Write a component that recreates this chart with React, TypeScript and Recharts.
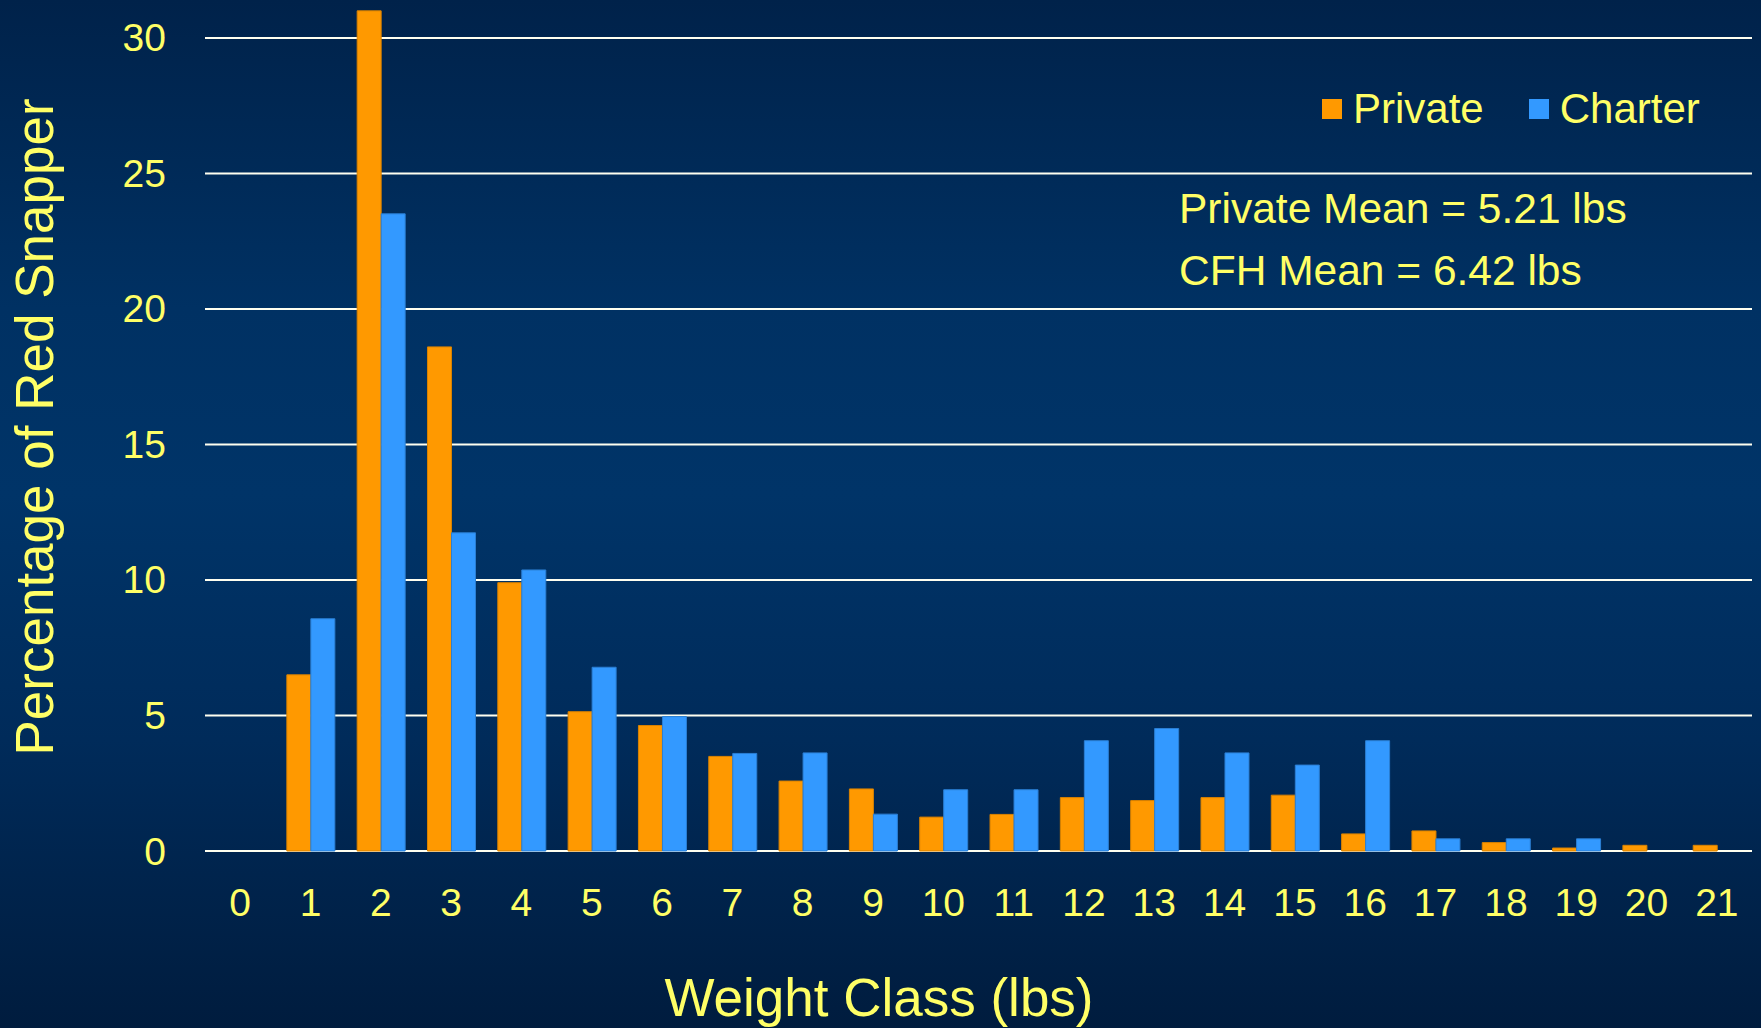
import React from 'react'
import { BarChart, Bar, XAxis, YAxis, CartesianGrid, Legend } from 'recharts'

// weight classes (lbs) and percentage of red snapper in each
const weightClasses = [0, 1, 2, 3, 4, 5, 6, 7, 8, 9, 10, 11, 12, 13, 14, 15, 16, 17, 18, 19, 20, 21]
const privatePct = [0, 6.5, 31.0, 18.6, 9.9, 5.14, 4.63, 3.49, 2.58, 2.29, 1.25, 1.35, 1.97, 1.86, 1.97, 2.06, 0.63, 0.74, 0.31, 0.11, 0.21, 0.21]
const charterPct = [0, 8.57, 23.51, 11.74, 10.37, 6.78, 4.96, 3.6, 3.62, 1.36, 2.26, 2.26, 4.07, 4.52, 3.62, 3.17, 4.07, 0.45, 0.45, 0.45, 0, 0]
const yTicks = [0, 5, 10, 15, 20, 25, 30]
const seriesOrder = ['Private', 'Charter']

const meanLines = ['Private Mean = 5.21 lbs', 'CFH Mean = 6.42 lbs']

const data = weightClasses.map((w, i) => ({
  weight: w,
  private: privatePct[i],
  charter: charterPct[i],
}))

const YELLOW = '#FFFF66'
const FONT = '"Liberation Sans", Arial, sans-serif'

const XTick = ({ x, y, payload }: any) => (
  <text x={x} y={y + 51} textAnchor="middle" dominantBaseline="central" fill={YELLOW} fontSize={39} fontFamily={FONT}>
    {payload.value}
  </text>
)

const YTick = ({ x, y, payload }: any) => (
  <text x={x - 39} y={y} textAnchor="end" dominantBaseline="central" fill={YELLOW} fontSize={39} fontFamily={FONT}>
    {payload.value}
  </text>
)

const LegendContent = ({ payload }: any) => {
  const items = [...(payload || [])].sort((a: any, b: any) => seriesOrder.indexOf(a.value) - seriesOrder.indexOf(b.value))
  return (
    <div style={{ display: 'flex', alignItems: 'center', fontFamily: FONT, fontSize: 42, color: YELLOW, whiteSpace: 'nowrap' }}>
      {items.map((entry: any, index: number) => (
        <div key={index} style={{ display: 'flex', alignItems: 'center', marginRight: index === 0 ? 45 : 0 }}>
          <span style={{ display: 'inline-block', width: 20, height: 20, background: entry.color, marginRight: 11 }} />
          <span>{entry.value}</span>
        </div>
      ))}
    </div>
  )
}

export default function App() {
  return (
    <div
      style={{
        position: 'relative',
        width: 1761,
        height: 1028,
        background: 'linear-gradient(to bottom, #00224a 0%, #003163 30%, #003468 48%, #002b5a 72%, #001c3e 100%)',
        fontFamily: FONT,
        overflow: 'hidden',
      }}
    >
      <style>{'body{margin:0}'}</style>
      <BarChart
        width={1761}
        height={1028}
        data={data}
        margin={{ top: 0, right: 9, bottom: 0, left: 0 }}
        barCategoryGap="16.4%"
        barGap={0}
      >
        <CartesianGrid horizontal vertical={false} horizontalValues={yTicks} stroke="#FFFFF0" strokeWidth={2} />
        <XAxis dataKey="weight" height={177} tickLine={false} axisLine={false} tickSize={0} tickMargin={0} tick={<XTick />} interval={0} />
        <YAxis
          width={205}
          domain={[0, 31.4]}
          ticks={yTicks}
          tickLine={false}
          axisLine={false}
          tickSize={0}
          tickMargin={0}
          tick={<YTick />}
        />
        <Legend
          layout="vertical"
          verticalAlign="middle"
          align="center"
          content={<LegendContent />}
          wrapperStyle={{ top: 85, left: 1322, width: 'auto' }}
        />
        <Bar dataKey="private" name="Private" fill="#FF9900" stroke="#D98200" strokeWidth={1} isAnimationActive={false} />
        <Bar dataKey="charter" name="Charter" fill="#3399FF" stroke="#2B7FD4" strokeWidth={1} isAnimationActive={false} />
      </BarChart>

      {meanLines.map((line, i) => (
        <div
          key={i}
          style={{ position: 'absolute', left: 1179, top: 184 + i * 62, fontSize: 42.5, lineHeight: '50px', color: YELLOW, whiteSpace: 'nowrap' }}
        >
          {line}
        </div>
      ))}

      <div
        style={{
          position: 'absolute',
          left: 879,
          top: 997,
          transform: 'translate(-50%, -50%)',
          fontSize: 53,
          color: YELLOW,
          whiteSpace: 'nowrap',
        }}
      >
        Weight Class (lbs)
      </div>

      <div
        style={{
          position: 'absolute',
          left: 34,
          top: 427,
          transform: 'translate(-50%, -50%) rotate(-90deg)',
          fontSize: 53,
          color: YELLOW,
          whiteSpace: 'nowrap',
        }}
      >
        Percentage of Red Snapper
      </div>
    </div>
  )
}
